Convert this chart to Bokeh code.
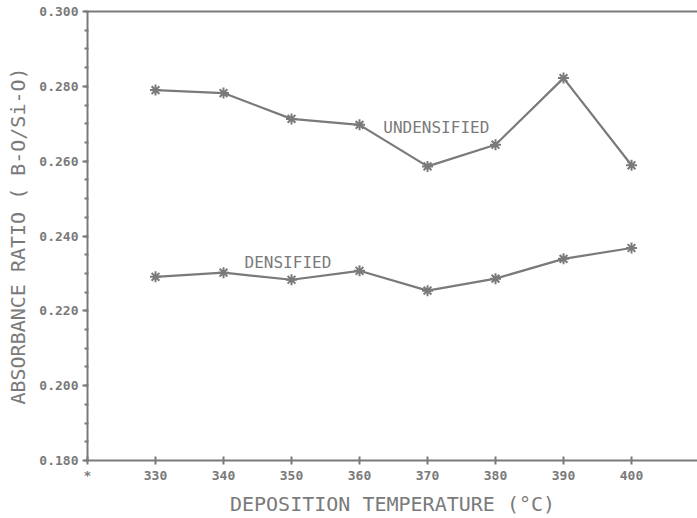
from bokeh.plotting import figure
from bokeh.models import Range1d, LinearAxis, FixedTicker, Label
from bokeh.embed import file_html
from bokeh.resources import INLINE

temps = [330, 340, 350, 360, 370, 380, 390, 400]
undensified = [0.2790, 0.2782, 0.2713, 0.2697, 0.2586, 0.2644, 0.2822, 0.2589]
densified = [0.2291, 0.2302, 0.2283, 0.2307, 0.2254, 0.2286, 0.2339, 0.2368]
x_ticks = [320, 330, 340, 350, 360, 370, 380, 390, 400, 410]
y_ticks = [0.18, 0.20, 0.22, 0.24, 0.26, 0.28, 0.30]
x_tick_labels = {320: "*"}
y_tick_labels = {0.18: "0.180", 0.20: "0.200", 0.22: "0.220", 0.24: "0.240",
                 0.26: "0.260", 0.28: "0.280", 0.30: "0.300"}

GRAY = "#7a7a7a"
FONT = "DejaVu Sans Mono"

p = figure(width=697, height=518, output_backend="svg", toolbar_location=None,
           x_range=Range1d(320, 409.7), y_range=Range1d(0.18, 0.30),
           min_border_left=87, min_border_right=0, min_border_top=11,
           min_border_bottom=55, background_fill_color="white",
           border_fill_color="white", outline_line_color=None)
p.grid.visible = False

xa = p.xaxis[0]
xa.ticker = FixedTicker(ticks=x_ticks)
xa.major_label_overrides = x_tick_labels
xa.axis_label = "DEPOSITION TEMPERATURE (°C)"
xa.minor_tick_line_color = None
xa.major_tick_in = 4
xa.major_tick_out = 4
xa.major_label_standoff = 3

ya = p.yaxis[0]
ya.ticker = FixedTicker(ticks=y_ticks,
                        minor_ticks=[0.18 + 0.005 * i for i in range(25)])
ya.major_label_overrides = y_tick_labels
ya.axis_label = "ABSORBANCE RATIO ( B-O/Si-O)"
ya.major_tick_in = 0
ya.major_tick_out = 5
ya.minor_tick_in = 1
ya.minor_tick_out = 3
ya.major_label_standoff = 4

for ax in (xa, ya):
    ax.axis_line_color = GRAY
    ax.axis_line_width = 2
    ax.major_tick_line_color = GRAY
    ax.major_tick_line_width = 2
    ax.minor_tick_line_color = GRAY if ax is ya else None
    ax.minor_tick_line_width = 2
    ax.major_label_text_font = FONT
    ax.major_label_text_font_size = "13px"
    ax.major_label_text_font_style = "bold"
    ax.major_label_text_color = GRAY
    ax.axis_label_text_font = FONT
    ax.axis_label_text_font_size = "20px"
    ax.axis_label_text_font_style = "normal"
    ax.axis_label_text_color = GRAY
    ax.axis_label_standoff = 6

top = LinearAxis(ticker=FixedTicker(ticks=[]), axis_line_color=GRAY,
                 axis_line_width=2, major_tick_line_color=None,
                 minor_tick_line_color=None, major_label_text_font_size="0px")
p.add_layout(top, "above")

for series in (undensified, densified):
    p.line(temps, series, line_color=GRAY, line_width=2.2)
    p.scatter(temps, series, marker="asterisk", size=11, line_color=GRAY,
              line_width=2)

p.add_layout(Label(x=363.5, y=0.2689, text="UNDENSIFIED", text_font=FONT,
                   text_font_size="16px", text_color=GRAY,
                   text_baseline="middle"))
p.add_layout(Label(x=343.1, y=0.2328, text="DENSIFIED", text_font=FONT,
                   text_font_size="16px", text_color=GRAY,
                   text_baseline="middle"))

open("out.html", "w").write(file_html(p, INLINE))
